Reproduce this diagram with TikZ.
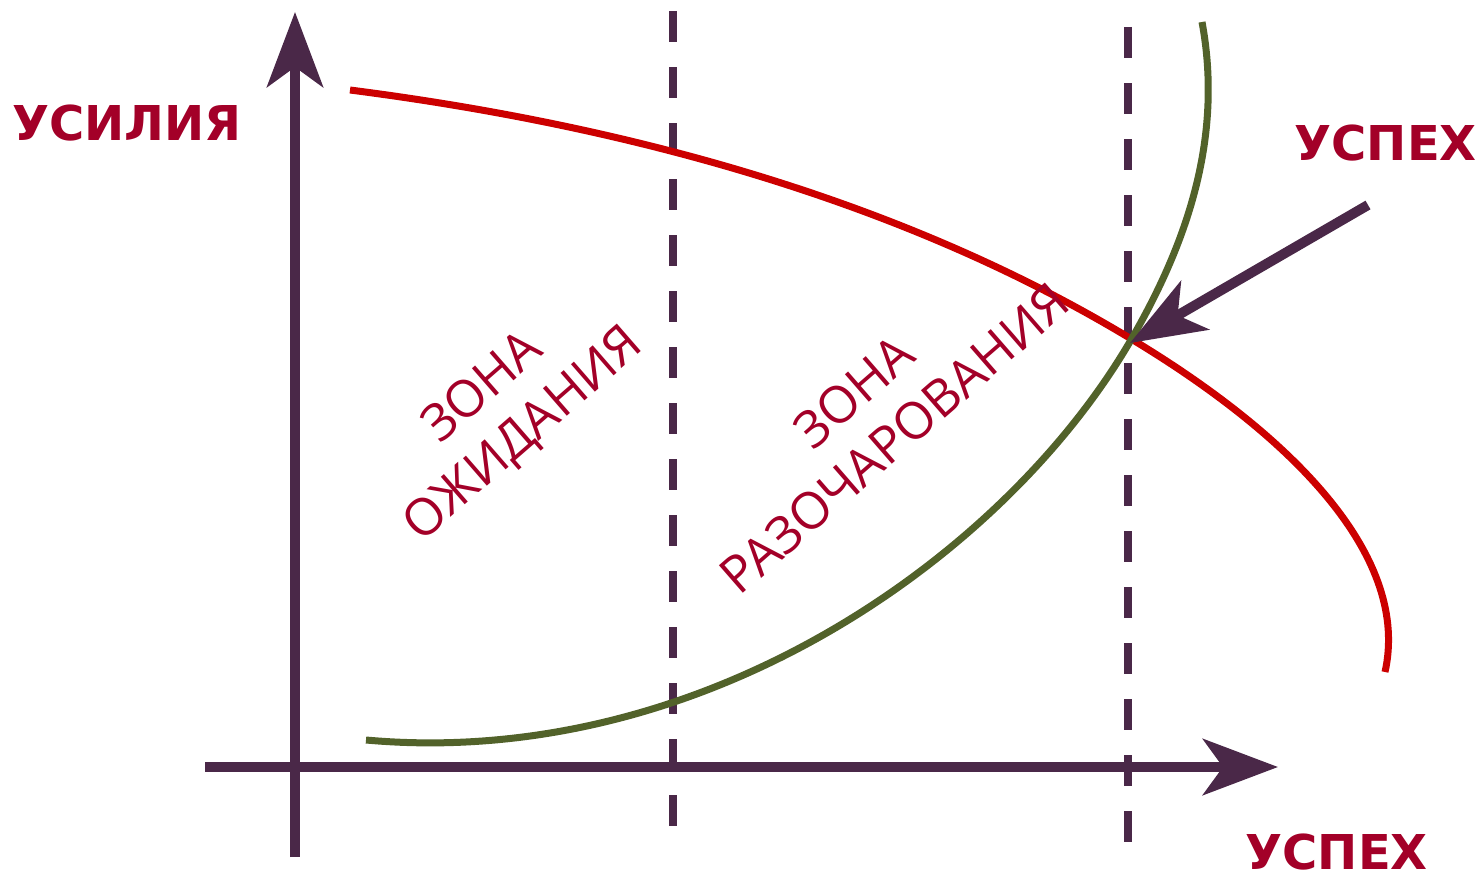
\documentclass[tikz,border=0pt]{standalone}
\usepackage{fontspec}
\setmainfont{DejaVu Sans}
\newfontfamily\zonefont{Open Sans}
\usetikzlibrary{arrows.meta}
\definecolor{axiscol}{HTML}{4A2848}
\definecolor{redcurve}{HTML}{CC0000}
\definecolor{greencurve}{HTML}{52622A}
\definecolor{textcol}{HTML}{A30028}
\begin{document}
\begin{tikzpicture}[x=1pt,y=-1pt,
  axisline/.style={draw=axiscol, line width=10pt, -{Stealth[length=75pt,width=56pt,inset=20pt]}},
  zoneline/.style={draw=axiscol, line width=8pt, dash pattern=on 31pt off 25pt},
  redline/.style={draw=redcurve, line width=7pt},
  greenline/.style={draw=greencurve, line width=7pt},
  biglabel/.style={text=textcol, font=\fontsize{48}{56}\selectfont\bfseries, inner sep=0pt, text depth=0pt},
  zonelabel/.style={text=textcol, font=\zonefont\fontsize{51}{62}\selectfont, align=center, rotate=41, inner sep=0pt}]
\useasboundingbox (0,0) rectangle (1482,875);
% coordinates
\coordinate (xs) at (205,767);
\coordinate (xe) at (1278,767);
\coordinate (ys) at (295,857);
\coordinate (ye) at (295,12);
\coordinate (d1s) at (673,11);
\coordinate (d1e) at (673,826);
\coordinate (d2s) at (1128,27);
\coordinate (d2e) at (1128,842);
\coordinate (as) at (1368,205);
\coordinate (ae) at (1130,343);
\coordinate (rs) at (350,90);
\coordinate (rm) at (1128,337);
\coordinate (re) at (1385,672);
\coordinate (gs) at (366,740);
\coordinate (gm) at (1128,345);
\coordinate (ge) at (1202,22);
% dashed zone lines
\draw[zoneline] (d1s) -- (d1e);
\draw[zoneline] (d2s) -- (d2e);
% axes
\draw[axisline] (xs) -- (xe);
\draw[axisline] (ys) -- (ye);
% curves
\draw[redline] (rs) .. controls (700,135) and (950,230) .. (rm)
  .. controls (1300,440) and (1410,560) .. (re);
\draw[greenline] (gs) .. controls (700,770) and (1000,560) .. (gm)
  .. controls (1193,235) and (1222,130) .. (ge);
% success arrow
\draw[axisline] (as) -- (ae);
% labels
\node[biglabel, anchor=base west] (lu) at (12,140) {УСИЛИЯ};
\node[biglabel, anchor=base east] (lr) at (1477,160) {УСПЕХ};
\node[biglabel, anchor=base east] (lb) at (1428,869) {УСПЕХ};
\node[zonelabel] (z1) at (504,412) {ЗОНА\\ОЖИДАНИЯ};
\node[zonelabel] (z2) at (874,415) {ЗОНА\\РАЗОЧАРОВАНИЯ};
\end{tikzpicture}
\end{document}
